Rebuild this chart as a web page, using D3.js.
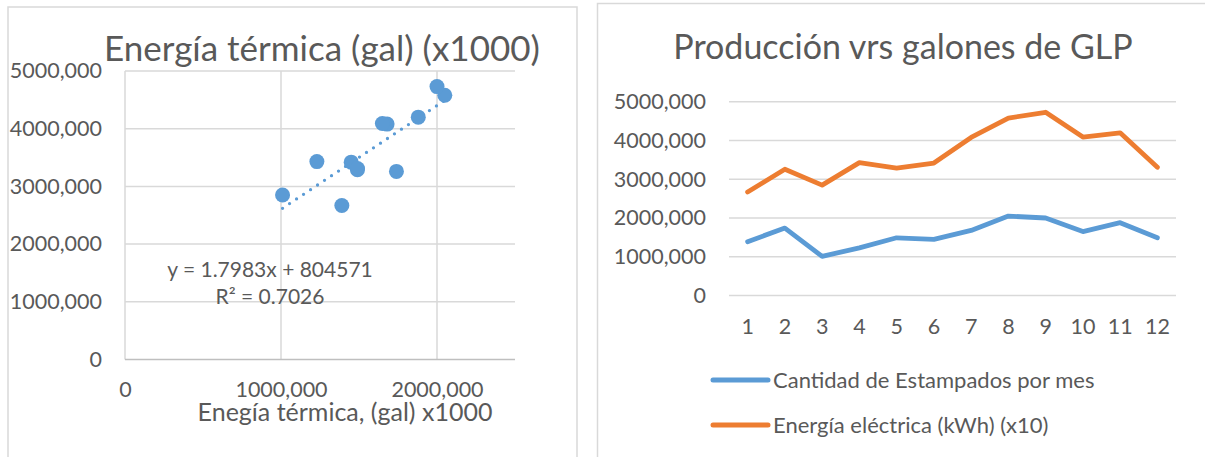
<!DOCTYPE html>
<html>
<head>
<meta charset="utf-8">
<script src="https://cdn.jsdelivr.net/npm/d3@7"></script>
<style>
  html, body { margin: 0; padding: 0; background: #fff; }
  svg { display: block; font-family: Lato, "Open Sans", sans-serif; }
  text { fill: #595959; }
</style>
</head>
<body>
<svg id="chart" width="1205" height="457"></svg>
<script>
// Monthly data
const months = [1, 2, 3, 4, 5, 6, 7, 8, 9, 10, 11, 12];
const estampados = [1390000, 1740000, 1010000, 1230000, 1490000, 1450000, 1680000, 2050000, 2000000, 1650000, 1880000, 1490000];
const energiaElectrica = [2670000, 3260000, 2850000, 3430000, 3290000, 3420000, 4080000, 4580000, 4730000, 4090000, 4200000, 3310000];

// Axis ticks
const yTickValues = [0, 1000000, 2000000, 3000000, 4000000, 5000000];
const yTickLabels = ["0", "1000,000", "2000,000", "3000,000", "4000,000", "5000,000"];
const xTickValuesScatter = [0, 1000000, 2000000];
const xTickLabelsScatter = ["0", "1000,000", "2000,000"];

// Linear trendline
const trendSlope = 1.7983;
const trendIntercept = 804571;
const trendR2 = "0.7026";

// Series names
const seriesNames = ["Cantidad de Estampados por mes", "Energía eléctrica (kWh) (x10)"];
const seriesColors = ["#5B9BD5", "#ED7D31"];

const svg = d3.select("#chart");
const gridColor = "#D9D9D9";
const tickFont = 21.5;

// ---------- Panel frames ----------
svg.append("rect").attr("x", 8).attr("y", 7).attr("width", 569).attr("height", 470)
  .attr("fill", "none").attr("stroke", gridColor).attr("stroke-width", 1.5);
svg.append("rect").attr("x", 597.5).attr("y", 3.5).attr("width", 640).attr("height", 470)
  .attr("fill", "none").attr("stroke", gridColor).attr("stroke-width", 1.5);

// ---------- Left: scatter ----------
const xS = d3.scaleLinear().domain([0, 2500000]).range([125, 515]);
const yS = d3.scaleLinear().domain([0, 5000000]).range([359.5, 71]);
const left = svg.append("g");

// horizontal gridlines
left.append("g").selectAll("line").data(yTickValues.filter(v => v > 0)).join("line")
  .attr("x1", xS(0)).attr("x2", xS(2500000))
  .attr("y1", d => yS(d)).attr("y2", d => yS(d))
  .attr("stroke", gridColor).attr("stroke-width", 1.5);
// vertical gridlines
left.append("g").selectAll("line").data(xTickValuesScatter).join("line")
  .attr("x1", d => xS(d)).attr("x2", d => xS(d))
  .attr("y1", yS(0)).attr("y2", yS(5000000))
  .attr("stroke", gridColor).attr("stroke-width", 1.5);
// bottom axis line
left.append("line").attr("x1", xS(0)).attr("x2", xS(2500000))
  .attr("y1", yS(0)).attr("y2", yS(0)).attr("stroke", "#BFBFBF").attr("stroke-width", 1.5);

// y axis labels
const yAxisL = d3.axisLeft(yS).tickValues(yTickValues)
  .tickFormat((d, i) => yTickLabels[i]).tickSize(0).tickPadding(23);
left.append("g").attr("transform", `translate(${xS(0)},0)`).call(yAxisL)
  .call(g => g.select(".domain").remove())
  .call(g => g.selectAll("text").attr("font-size", tickFont).attr("font-family", "Lato").attr("fill", "#595959"));

// x axis labels
const xAxisL = d3.axisBottom(xS).tickValues(xTickValuesScatter)
  .tickFormat((d, i) => xTickLabelsScatter[i]).tickSize(0).tickPadding(22);
left.append("g").attr("transform", `translate(0,${yS(0)})`).call(xAxisL)
  .call(g => g.select(".domain").remove())
  .call(g => g.selectAll("text").attr("font-size", tickFont).attr("font-family", "Lato").attr("fill", "#595959"));

// trendline
const xMin = d3.min(estampados), xMax = d3.max(estampados);
left.append("line")
  .attr("x1", xS(xMin)).attr("y1", yS(trendSlope * xMin + trendIntercept))
  .attr("x2", xS(xMax)).attr("y2", yS(trendSlope * xMax + trendIntercept))
  .attr("stroke", "#5B9BD5").attr("stroke-width", 3.3)
  .attr("stroke-linecap", "round").attr("stroke-dasharray", "0 8.4");

// points
left.append("g").selectAll("circle").data(months).join("circle")
  .attr("cx", (d, i) => xS(estampados[i]))
  .attr("cy", (d, i) => yS(energiaElectrica[i]))
  .attr("r", 7.5).attr("fill", "#5B9BD5");

// title
left.append("text").attr("x", 322).attr("y", 61).attr("text-anchor", "middle")
  .attr("font-size", 35).text("Energía térmica (gal) (x1000)");
// x axis title
left.append("text").attr("x", 345).attr("y", 421).attr("text-anchor", "middle")
  .attr("font-size", 25).text("Enegía térmica, (gal) x1000");
// equation
const fmtInt = d3.format("d");
left.append("text").attr("x", 270).attr("y", 277).attr("text-anchor", "middle")
  .attr("font-size", 21).text(`y = ${trendSlope}x + ${fmtInt(trendIntercept)}`);
left.append("text").attr("x", 270).attr("y", 304).attr("text-anchor", "middle")
  .attr("font-size", 21).text(`R² = ${trendR2}`);

// ---------- Right: line chart ----------
const xB = d3.scaleBand().domain(months).range([729, 1176]);
const yR = d3.scaleLinear().domain([0, 5000000]).range([295.5, 101.8]);
const right = svg.append("g");

right.append("g").selectAll("line").data(yTickValues).join("line")
  .attr("x1", 729).attr("x2", 1176)
  .attr("y1", d => yR(d)).attr("y2", d => yR(d))
  .attr("stroke", gridColor).attr("stroke-width", 1.5);

const yAxisR = d3.axisLeft(yR).tickValues(yTickValues)
  .tickFormat((d, i) => yTickLabels[i]).tickSize(0).tickPadding(23);
right.append("g").attr("transform", "translate(729,0)").call(yAxisR)
  .call(g => g.select(".domain").remove())
  .call(g => g.selectAll("text").attr("font-size", tickFont).attr("font-family", "Lato").attr("fill", "#595959"));

const xAxisR = d3.axisBottom(xB).tickSize(0).tickPadding(23);
right.append("g").attr("transform", `translate(0,${yR(0)})`).call(xAxisR)
  .call(g => g.select(".domain").remove())
  .call(g => g.selectAll("text").attr("font-size", tickFont).attr("font-family", "Lato").attr("fill", "#595959"));

const lineGen = d3.line().x((d, i) => xB(months[i]) + xB.bandwidth() / 2).y(d => yR(d));
[estampados, energiaElectrica].forEach((s, k) => {
  right.append("path").datum(s).attr("d", lineGen)
    .attr("fill", "none").attr("stroke", seriesColors[k]).attr("stroke-width", 4.8)
    .attr("stroke-linejoin", "round").attr("stroke-linecap", "round");
});

right.append("text").attr("x", 903).attr("y", 59).attr("text-anchor", "middle")
  .attr("font-size", 34).text("Producción vrs galones de GLP");

// legend
const legend = right.append("g").selectAll("g").data(seriesNames).join("g")
  .attr("transform", (d, i) => `translate(713,${380 + i * 45})`);
legend.append("line").attr("x1", 0).attr("x2", 55).attr("y1", 0).attr("y2", 0)
  .attr("stroke", (d, i) => seriesColors[i]).attr("stroke-width", 5).attr("stroke-linecap", "round");
legend.append("text").attr("x", 60).attr("y", 0).attr("dy", "0.35em")
  .attr("font-size", 22).text(d => d);
</script>
</body>
</html>
